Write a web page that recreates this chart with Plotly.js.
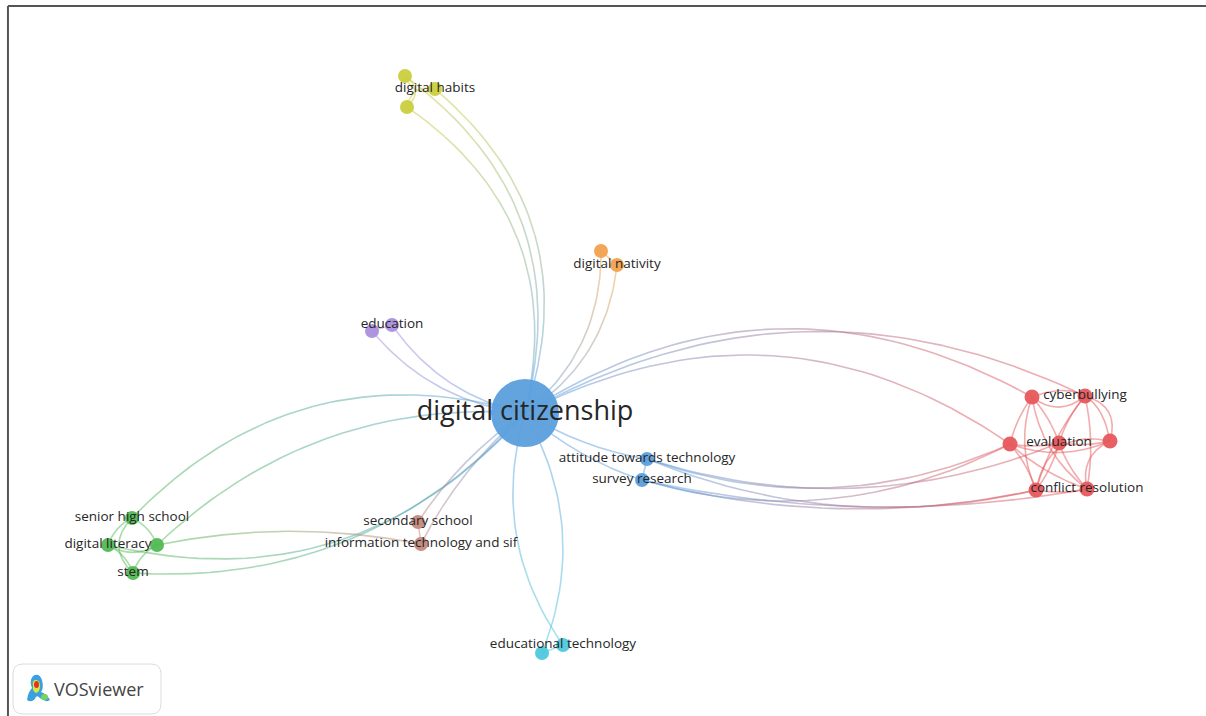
<!DOCTYPE html>
<html>
<head>
<meta charset="utf-8">
<script src="https://cdn.plot.ly/plotly-3.0.1.min.js"></script>
<style>
html,body{margin:0;padding:0;background:#fff;}
#chart{width:1206px;height:716px;}
</style>
</head>
<body>
<div id="chart"></div>
<script>
const nodeLabels = ["digital citizenship","","digital habits","","","digital nativity","","education",
  "","cyberbullying","","evaluation","","","conflict resolution",
  "attitude towards technology","survey research",
  "senior high school","digital literacy","","stem",
  "secondary school","information technology and sif","","educational technology"];
const nodeX = [525,405,435,407,601,617,372,392,1032,1085,1010,1059,1110,1036,1087,647,642,132,108,157,133,418,421,542,563];
const nodeY = [413,76,89,107,251,265,331,325,397,396,444,443,441,490,489,459,480,518,545,545,573,522,544,653,645];
const nodeCluster = [0,1,1,1,2,2,3,3,4,4,4,4,4,4,4,0,0,5,5,5,5,6,6,7,7];
const nodeWeight = [68,14,14,14,14,14,14,14,15,15,15,15,15,15,15,14,14,14,14,14,14,14,14,14,14];
const clusterColors = ["#5b9fdd","#c9cf3e","#f2a14f","#ab8fdc","#e6585c","#52b952","#c4897c","#4fc8dc"];

const edgeFrom = [0,0,0,1,2,1, 0,0,4, 0,0,6, 0,0,0, 15,15,16,16,16,15,
  8,8,8,8,8,9,9,9,9,10,10,10,10,11,11,11,12,12,13,8,
  0,0,0,0,17,17,18,19,17,18,19,
  0,0,21, 0,0,23, 0,0,15];
const edgeTo   = [1,2,3,2,3,3, 4,5,5, 6,7,7, 8,10,9, 10,13,10,13,14,11,
  9,10,11,13,14,11,12,13,14,11,12,13,14,12,13,14,13,14,14,12,
  17,19,18,20,18,19,20,20,20,19,22,
  21,22,22, 23,24,24, 15,16,16];
const edgeBend = [0.17,0.17,0.17,0.25,0.25,-0.3, 0.12,0.12,0, -0.1,-0.1,0, -0.15,-0.15,-0.13, 0.1,0.08,0.1,0.06,0.05,0.09,
  0.2,0.05,-0.05,0.1,0.1,0.05,-0.25,0.05,-0.05,0.05,0.1,-0.05,0.05,0.05,-0.05,0.05,0.25,0.2,0.05,-0.3,
  0.15,0.11,-0.15,-0.12,0.1,-0.1,-0.1,0.1,0.25,0.15,-0.05,
  0.05,0.05,0, -0.12,0.12,0, 0.05,0.05,0];

// ---- helpers ----
function hex2rgb(h){h=h.replace('#','');return [parseInt(h.substr(0,2),16),parseInt(h.substr(2,2),16),parseInt(h.substr(4,2),16)];}
function mix(a,b,t){const A=hex2rgb(a),B=hex2rgb(b);return A.map((v,i)=>Math.round(v+(B[i]-v)*t));}

const segs = 8, pts = 48;
const groups = {};
for (let e=0;e<edgeFrom.length;e++){
  const a=edgeFrom[e], b=edgeTo[e];
  const x0=nodeX[a], y0=nodeY[a], x1=nodeX[b], y1=nodeY[b];
  const dx=x1-x0, dy=y1-y0, len=Math.hypot(dx,dy);
  const nx=-dy/len, ny=dx/len;
  const cx=(x0+x1)/2 + 2*edgeBend[e]*len*nx;
  const cy=(y0+y1)/2 + 2*edgeBend[e]*len*ny;
  const ca=clusterColors[nodeCluster[a]], cb=clusterColors[nodeCluster[b]];
  for (let s=0;s<segs;s++){
    const rgb = mix(ca,cb,(s+0.5)/segs);
    const key = 'rgba('+rgb.join(',')+',0.5)';
    if(!groups[key]) groups[key]={x:[],y:[]};
    const g=groups[key];
    const n0=Math.round(s*pts/segs), n1=Math.round((s+1)*pts/segs);
    for(let k=n0;k<=n1;k++){
      const t=k/pts, u=1-t;
      g.x.push(u*u*x0+2*u*t*cx+t*t*x1);
      g.y.push(u*u*y0+2*u*t*cy+t*t*y1);
    }
    g.x.push(null); g.y.push(null);
  }
}
const traces=[];
for (const key in groups){
  traces.push({type:'scatter',mode:'lines',x:groups[key].x,y:groups[key].y,
    line:{color:key,width:1.6},hoverinfo:'skip',showlegend:false});
}
traces.push({type:'scatter',mode:'markers',x:nodeX,y:nodeY,hoverinfo:'skip',showlegend:false,
  marker:{size:nodeWeight,color:nodeCluster.map(c=>clusterColors[c]),opacity:0.95,line:{width:0}}});
const lx=[],ly=[],lt=[],ls=[];
nodeLabels.forEach((t,i)=>{ if(t){lx.push(nodeX[i]);ly.push(nodeY[i]);lt.push(t);ls.push(i===0?27:13.5);} });
traces.push({type:'scatter',mode:'text',x:lx,y:ly,text:lt,textposition:'middle center',hoverinfo:'skip',showlegend:false,
  textfont:{family:'"Open Sans", sans-serif',size:ls,color:'#262626'}});

const shapes=[
  {type:'line',xref:'paper',yref:'paper',x0:0.0066,x1:1,y0:0.9916,y1:0.9916,line:{color:'#555',width:2}},
  {type:'line',xref:'paper',yref:'paper',x0:0.0066,x1:0.0066,y0:0,y1:0.9916,line:{color:'#555',width:2}},
  {type:'path',xref:'x',yref:'y',path:'M 23 664 L 151 664 Q 161 664 161 674 L 161 704 Q 161 714 151 714 L 23 714 Q 13 714 13 704 L 13 674 Q 13 664 23 664 Z',
    line:{color:'#dcdcdc',width:1},fillcolor:'#ffffff',layer:'above'},
  {type:'path',xref:'x',yref:'y',path:'M 33 676 Q 39 672 42 680 Q 44 688 41 692 Q 47 694 50 700 Q 46 703 40 698 Q 36 694 35 699 Q 31 703 27 700 Q 28 692 32 688 Q 29 681 33 676 Z',
    line:{width:0},fillcolor:'#3aa0e0',layer:'above'},
  {type:'path',xref:'x',yref:'y',path:'M 35 680 Q 40 679 40 686 Q 40 692 36 693 Q 32 691 33 686 Q 32 681 35 680 Z',
    line:{width:0},fillcolor:'#d8e83a',layer:'above'},
  {type:'circle',xref:'x',yref:'y',x0:34,x1:39,y0:681,y1:688,line:{width:0},fillcolor:'#e0322a',layer:'above'},
  {type:'circle',xref:'x',yref:'y',x0:41,x1:48,y0:694,y1:700,line:{width:0},fillcolor:'#7ad35a',layer:'above'}
];

const layout={
  width:1206,height:716,margin:{l:0,r:0,t:0,b:0},
  paper_bgcolor:'#ffffff',plot_bgcolor:'#ffffff',showlegend:false,
  xaxis:{range:[0,1206],visible:false,fixedrange:true},
  yaxis:{range:[716,0],visible:false,fixedrange:true},
  shapes:shapes,
  annotations:[{xref:'x',yref:'y',x:99,y:689,text:'VOSviewer',showarrow:false,
    font:{family:'"Open Sans", sans-serif',size:18,color:'#444'}}]
};
Plotly.newPlot('chart',traces,layout,{staticPlot:true,displayModeBar:false});
</script>
</body>
</html>
